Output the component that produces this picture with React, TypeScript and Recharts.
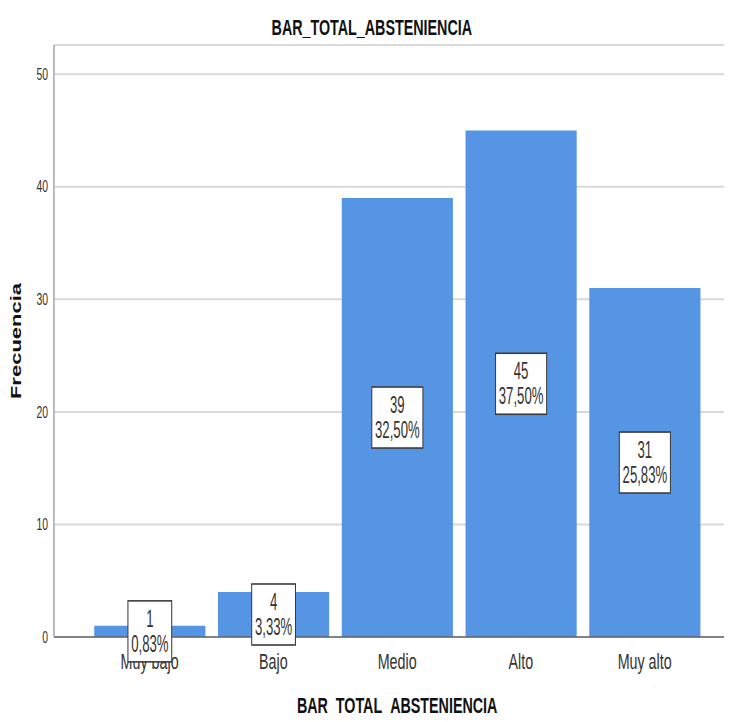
import { BarChart, Bar, XAxis, YAxis, CartesianGrid, LabelList } from 'recharts'

const categories = ['Muy bajo', 'Bajo', 'Medio', 'Alto', 'Muy alto']
const counts = [1, 4, 39, 45, 31]
const percents = ['0,83%', '3,33%', '32,50%', '37,50%', '25,83%']
const yTicks = [0, 10, 20, 30, 40, 50]

const title = 'BAR_TOTAL_ABSTENIENCIA'

// the reference is squeezed horizontally, so the whole chart is drawn wide and scaled down
const SX = 0.65
const W = Math.round(732 / SX)
const H = 722
const FONT = "'Liberation Sans', Arial, sans-serif"

const data = categories.map((name, i) => ({ name, value: counts[i], pct: percents[i] }))

// rough Arial widths, just to size the label box
const charW = (c: string) => (c === ',' ? 0.278 : c === '%' ? 0.889 : 0.556)
const textWidth = (s: string, size: number) => s.split('').reduce((a, c) => a + charW(c), 0) * size

function BoxLabel(props: any) {
  const { x, y, width, height, index } = props
  const cx = Number(x) + Number(width) / 2
  const cy = Number(y) + Number(height) / 2
  const top = String(counts[index])
  const bottom = percents[index]
  const fs = 23
  const k = 0.88
  const bw = Math.max(textWidth(top, fs), textWidth(bottom, fs)) * k + 10
  const bh = 61
  return (
    <g>
      <rect
        x={cx - bw / 2}
        y={cy - bh / 2}
        width={bw}
        height={bh}
        fill="#fff"
        stroke="#3c3c3c"
        strokeWidth={1.6}
      />
      <g transform={`translate(${cx} 0) scale(${k} 1)`}>
        <text x={0} y={cy - 4.6} textAnchor="middle" fontSize={fs} fill="#333" fontFamily={FONT}>
          {top}
        </text>
        <text x={0} y={cy + 20.7} textAnchor="middle" fontSize={fs} fill="#333" fontFamily={FONT}>
          {bottom}
        </text>
      </g>
    </g>
  )
}

const titleStyle = {
  position: 'absolute' as const,
  textAlign: 'center' as const,
  fontSize: 22,
  fontWeight: 'bold' as const,
  color: '#111',
  lineHeight: '26px',
}

export default function App() {
  return (
    <div style={{ margin: -8, width: 732, height: 722, overflow: 'hidden', position: 'relative', background: '#fff' }}>
      <div
        style={{
          position: 'absolute',
          left: 0,
          top: 0,
          width: W,
          height: H,
          transform: `scaleX(${SX})`,
          transformOrigin: '0 0',
          fontFamily: FONT,
        }}
      >
        <BarChart width={W} height={H} data={data} margin={{ top: 45, right: 0, bottom: 55, left: 0 }}>
          <CartesianGrid horizontal vertical={false} stroke="#d9d9d9" strokeWidth={2} />
          <XAxis
            dataKey="name"
            height={30}
            padding={{ left: 52, right: 39 }}
            tickLine={false}
            tickSize={0}
            tickMargin={16}
            axisLine={{ stroke: '#666', strokeWidth: 1.6 }}
            tick={{ fontSize: 22, fill: '#333', fontFamily: FONT }}
            interval={0}
          />
          <YAxis
            width={83}
            domain={[0, 52.6]}
            ticks={yTicks}
            interval={0}
            tickLine={false}
            tickSize={0}
            tickMargin={9}
            axisLine={{ stroke: '#999', strokeWidth: 2 }}
            tick={{ fontSize: 16, fill: '#333', fontFamily: FONT }}
          />
          <Bar dataKey="value" fill="#5595e4" barSize={171} isAnimationActive={false}>
            <LabelList dataKey="pct" content={<BoxLabel />} />
          </Bar>
        </BarChart>

        {/* títulos */}
        <div style={{ ...titleStyle, left: 572 - 300, width: 600, top: 28 - 13 }}>{title}</div>
        <div style={{ ...titleStyle, left: 611 - 300, width: 600, top: 706 - 13 }}>{title}</div>
        <div
          style={{
            ...titleStyle,
            left: 26 - 100,
            width: 200,
            top: 341 - 13,
            transform: 'rotate(-90deg)',
          }}
        >
          Frecuencia
        </div>
      </div>
    </div>
  )
}
